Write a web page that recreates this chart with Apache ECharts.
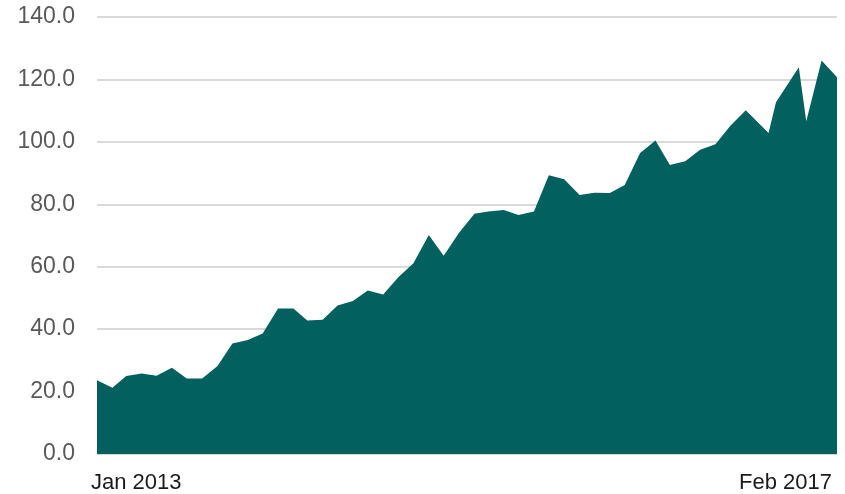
<!DOCTYPE html>
<html>
<head>
<meta charset="utf-8">
<script src="https://cdn.jsdelivr.net/npm/echarts@6/dist/echarts.min.js"></script>
<style>
  html, body { margin: 0; padding: 0; background: #ffffff; }
  #chart { width: 845px; height: 494px; }
</style>
</head>
<body>
<div id="chart"></div>
<script>
// Observation dates (monthly, with two mid-month readings late in 2016)
const dates = [
  '2013-01-01','2013-02-01','2013-03-01','2013-04-01','2013-05-01','2013-06-01',
  '2013-07-01','2013-08-01','2013-09-01','2013-10-01','2013-11-01','2013-12-01',
  '2014-01-01','2014-02-01','2014-03-01','2014-04-01','2014-05-01','2014-06-01',
  '2014-07-01','2014-08-01','2014-09-01','2014-10-01','2014-11-01','2014-12-01',
  '2015-01-01','2015-02-01','2015-03-01','2015-04-01','2015-05-01','2015-06-01',
  '2015-07-01','2015-08-01','2015-09-01','2015-10-01','2015-11-01','2015-12-01',
  '2016-01-01','2016-02-01','2016-03-01','2016-04-01','2016-05-01','2016-06-01',
  '2016-07-01','2016-08-01','2016-09-16','2016-10-01','2016-11-16','2016-12-01',
  '2017-01-01','2017-02-01'
];

// Series values
const values = [
  23.6, 21.2, 25.0, 25.8, 25.1, 27.6, 24.2, 24.2, 28.2, 35.4, 36.5, 38.6,
  46.6, 46.6, 42.8, 43.0, 47.6, 49.0, 52.4, 51.1, 56.7, 61.1, 70.2, 63.5,
  70.9, 77.0, 77.7, 78.2, 76.6, 77.7, 89.3, 88.0, 83.0, 83.7, 83.6, 86.2,
  96.4, 100.4, 92.6, 93.8, 97.5, 99.2, 105.2, 110.1, 102.8, 112.7, 123.9, 106.6,
  126.1, 120.7
];

// Labelled dates on the horizontal axis
const xTickDates = ['2013-01-01', '2017-02-01'];
const monthNames = ['Jan','Feb','Mar','Apr','May','Jun','Jul','Aug','Sep','Oct','Nov','Dec'];

const toTime = s => { const p = s.split('-').map(Number); return new Date(p[0], p[1] - 1, p[2]).getTime(); };

const chart = echarts.init(document.getElementById('chart'), null, { renderer: 'canvas' });

chart.setOption({
  animation: false,
  grid: { left: 97, right: 8, top: 17, bottom: 40, containLabel: false },
  xAxis: {
    type: 'value',
    min: toTime(dates[0]),
    max: toTime(dates[dates.length - 1]),
    axisLine: { show: false },
    axisTick: { show: false },
    splitLine: { show: false },
    axisLabel: {
      customValues: xTickDates.map(toTime),
      alignMinLabel: 'left',
      alignMaxLabel: 'right',
      showMinLabel: true,
      showMaxLabel: true,
      margin: 18,
      padding: [0, 5, 0, -6],
      fontFamily: 'Liberation Sans, Arial, sans-serif',
      fontSize: 22,
      color: '#1a1a1a',
      formatter: v => { const d = new Date(v); return monthNames[d.getMonth()] + ' ' + d.getFullYear(); }
    }
  },
  yAxis: {
    type: 'value',
    min: 0,
    max: 140,
    interval: 20,
    axisLine: { show: false },
    axisTick: { show: false },
    splitLine: { lineStyle: { color: '#d9d9d9', width: 2 } },
    axisLabel: {
      margin: 22,
      fontFamily: 'Liberation Sans, Arial, sans-serif',
      fontSize: 23,
      color: '#595959',
      formatter: v => v.toFixed(1)
    }
  },
  series: [{
    type: 'line',
    data: dates.map((d, i) => [toTime(d), values[i]]),
    showSymbol: false,
    lineStyle: { width: 0 },
    areaStyle: { color: '#02605f', opacity: 1 },
    z: 3
  }]
});
</script>
</body>
</html>
